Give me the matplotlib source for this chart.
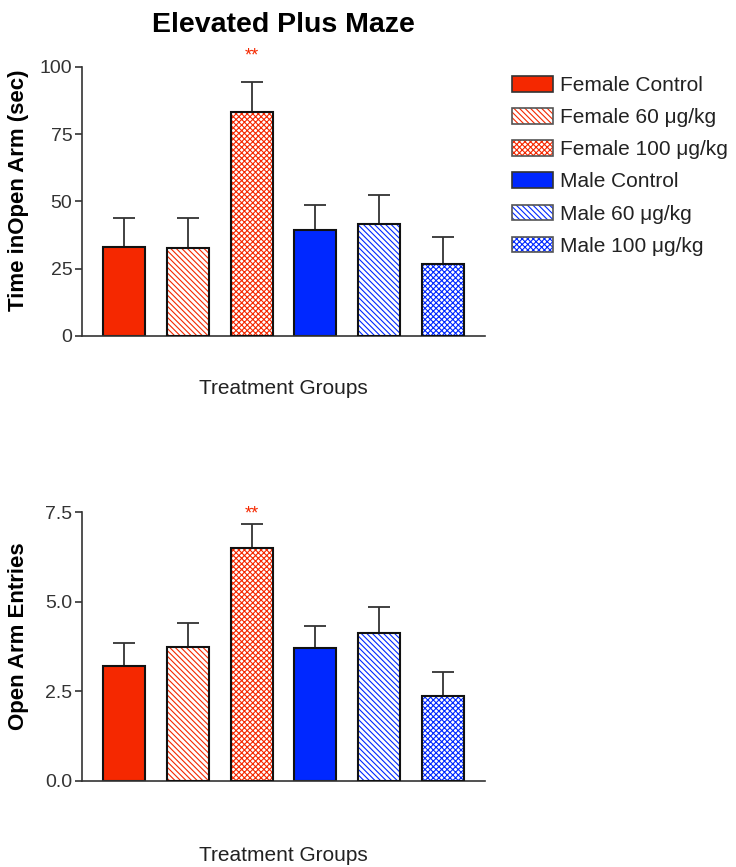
import matplotlib
matplotlib.use("Agg")
import matplotlib.pyplot as plt
from matplotlib.patches import Patch

plt.rcParams['font.family'] = ['Liberation Sans', 'DejaVu Sans']
plt.rcParams['hatch.linewidth'] = 0.8

groups = ["Female Control", "Female 60 μg/kg", "Female 100 μg/kg",
          "Male Control", "Male 60 μg/kg", "Male 100 μg/kg"]
time_mean = [33.2, 32.6, 83.4, 39.4, 41.5, 26.8]
time_sem = [10.5, 11.1, 11.1, 9.3, 10.9, 10.1]
entries_mean = [3.21, 3.74, 6.51, 3.70, 4.13, 2.37]
entries_sem = [0.64, 0.68, 0.67, 0.61, 0.73, 0.67]

red = "#F52800"
blue = "#0028FF"
colors = [red, red, red, blue, blue, blue]
hatches = [None, "\\" * 6, "x" * 6, None, "\\" * 6, "x" * 6]

fig = plt.figure(figsize=(7.36, 8.67), dpi=100)
ax1 = fig.add_axes([0.1114, 0.6125, 0.5476, 0.3103])
ax2 = fig.add_axes([0.1114, 0.0995, 0.5476, 0.3096])


def draw(ax, means, sems, ticks, fmt, ylabel, xpad, star_off):
    x = range(len(means))
    for i, m in enumerate(means):
        if hatches[i] is None:
            ax.bar(i, m, width=0.66, color=colors[i], edgecolor="#111111",
                   linewidth=1.5, zorder=2)
        else:
            ax.bar(i, m, width=0.66, color="white", edgecolor=colors[i],
                   hatch=hatches[i], linewidth=0, zorder=2)
            ax.bar(i, m, width=0.66, fill=False, edgecolor="#111111",
                   linewidth=1.5, zorder=3)
    ax.errorbar(list(x), means, yerr=[[0] * len(sems), sems], fmt="none",
                ecolor="#333333", elinewidth=1.3, capsize=8, capthick=1.3,
                zorder=1)
    ax.annotate("**", xy=(2, means[2] + sems[2]), xytext=(0, star_off),
                textcoords="offset points", ha="center", va="baseline",
                color=red, fontsize=13, annotation_clip=False)
    ax.set_xlim(-0.66, 5.66)
    ax.set_ylim(0, ticks[-1])
    ax.set_yticks(ticks)
    ax.set_yticklabels([fmt.format(t) for t in ticks])
    ax.set_xticks([])
    for s in ["top", "right"]:
        ax.spines[s].set_visible(False)
    for s in ["left", "bottom"]:
        ax.spines[s].set_color("#333333")
        ax.spines[s].set_linewidth(1.2)
    ax.tick_params(axis="y", length=5, width=1.2, color="#333333",
                   labelsize=14, labelcolor="#333333", pad=2)
    ax.set_ylabel(ylabel, fontsize=16, fontweight="bold")
    ax.yaxis.set_label_coords(-0.1315, 0.54)
    ax.set_xlabel("Treatment Groups", fontsize=15, labelpad=xpad,
                  color="#222222")


draw(ax1, time_mean, time_sem, [0, 25, 50, 75, 100], "{:g}",
     "Time inOpen Arm (sec)", 31, 15)
draw(ax2, entries_mean, entries_sem, [0.0, 2.5, 5.0, 7.5], "{:.1f}",
     "Open Arm Entries", 47, 4)

ax1.set_title("Elevated Plus Maze", fontsize=20.5, fontweight="bold", pad=25)

handles = []
for c, h in zip(colors, hatches):
    if h is None:
        handles.append(Patch(facecolor=c, edgecolor="#333333", linewidth=1.2))
    else:
        handles.append((Patch(facecolor="white", edgecolor=c, hatch=h,
                              linewidth=0),
                        Patch(fill=False, edgecolor="#555555", linewidth=1.2)))

fig.legend(handles, groups, loc="upper left",
           bbox_to_anchor=(512 / 736, 1 - 76 / 867), frameon=False,
           fontsize=15, borderpad=0, borderaxespad=0, handlelength=1.97,
           handleheight=0.77, handletextpad=0.34, labelspacing=0.63,
           labelcolor="#222222")

fig.savefig("out.png", dpi=100)
